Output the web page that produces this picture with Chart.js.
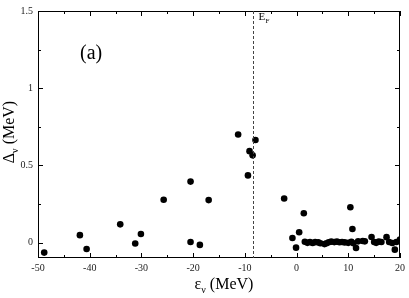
<!DOCTYPE html>
<html>
<head>
<meta charset="utf-8">
<script src="https://cdn.jsdelivr.net/npm/chart.js@4"></script>
<style>
  html, body { margin: 0; padding: 0; background: #fff; }
  #wrap { width: 409px; height: 298px; }
</style>
</head>
<body>
<div id="wrap"><canvas id="c" width="409" height="298"></canvas></div>
<script>
/* ---- data ---- */
var epsVals = [-48.8, -41.9, -40.6, -34.1, -31.2, -30.1, -25.7, -20.5, -20.5, -18.7, -17.0,
    -11.3, -7.95, -9.1, -8.5, -9.4, -2.4, 1.4, 10.4, 10.8, 0.5, -0.8, -0.1,
    1.6, 2.1, 2.6, 3.1, 3.6, 4.2, 4.6, 5.4, 5.8, 6.2, 6.7, 7.3, 7.8, 8.3, 8.8, 9.3,
    10.0, 10.6, 11.0, 11.5, 11.9, 12.8, 13.2, 14.5, 15.0, 15.4, 15.9, 16.4, 17.4,
    17.9, 18.5, 19.0, 19.3, 20.0];
var gapVals = [-0.065, 0.048, -0.042, 0.118, -0.006, 0.055, 0.277, 0.395, 0.004, -0.015, 0.275,
    0.70, 0.664, 0.592, 0.565, 0.435, 0.285, 0.19, 0.229, 0.088, 0.067, 0.03, -0.033,
    0.005, -0.002, 0.004, -0.003, 0.003, 0.001, -0.004, -0.01, -0.004, 0.002, 0.006, 0.003, 0.006, 0.002, 0.004, 0.001,
    -0.002, 0.005, -0.004, -0.035, 0.008, 0.01, 0.008, 0.036, 0.004, -0.002, 0.006, 0.004, 0.035,
    0.004, -0.003, -0.046, 0.004, 0.02];
var xTicks = [-50, -40, -30, -20, -10, 0, 10, 20];
var yTicks = [0, 0.5, 1, 1.5];
var fermiLevel = -8.4;

var SERIF = "'Liberation Serif', 'Times New Roman', 'DejaVu Serif', serif";

var points = epsVals.map(function (x, i) { return { x: x, y: gapVals[i] }; });

/* frame, inward ticks, Fermi line and labels */
var decor = {
    id: 'decor',
    afterDatasetsDraw: function (chart) {
        var ctx = chart.ctx, a = chart.chartArea;
        var xs = chart.scales.x, ys = chart.scales.y;
        ctx.save();
        ctx.strokeStyle = '#000';
        ctx.lineWidth = 1;
        ctx.strokeRect(a.left + 0.5, a.top + 0.5, a.right - a.left - 1, a.bottom - a.top - 1);

        ctx.beginPath();
        for (var v = -50; v <= 20; v += 5) {
            var px = Math.round(xs.getPixelForValue(v)) + 0.5;
            var len = (v % 10 === 0) ? 5 : 3;
            ctx.moveTo(px, a.bottom); ctx.lineTo(px, a.bottom - len);
            ctx.moveTo(px, a.top); ctx.lineTo(px, a.top + len);
        }
        for (var w = 0; w <= 1.5; w += 0.25) {
            var py = Math.round(ys.getPixelForValue(w)) + 0.5;
            var l2 = (Math.abs(w * 2 - Math.round(w * 2)) < 1e-6) ? 5 : 3;
            ctx.moveTo(a.left, py); ctx.lineTo(a.left + l2, py);
            ctx.moveTo(a.right, py); ctx.lineTo(a.right - l2, py);
        }
        ctx.stroke();

        // Fermi level
        var fx = Math.round(xs.getPixelForValue(fermiLevel)) + 0.5;
        ctx.setLineDash([3, 2]);
        ctx.strokeStyle = '#444';
        ctx.beginPath();
        ctx.moveTo(fx, a.top); ctx.lineTo(fx, a.bottom);
        ctx.stroke();
        ctx.setLineDash([]);

        ctx.fillStyle = '#000';
        ctx.textBaseline = 'alphabetic';
        ctx.textAlign = 'left';
        ctx.font = '11px ' + SERIF;
        ctx.fillText('E', fx + 5, 20);
        ctx.font = '7px ' + SERIF;
        ctx.fillText('F', fx + 12, 23);

        ctx.font = '20px ' + SERIF;
        ctx.fillText('(a)', a.left + 42, a.top + 48);

        // x title
        var t1 = 'ε', t3 = ' (MeV)';
        ctx.font = '16px ' + SERIF;
        var w1 = ctx.measureText(t1).width;
        var w3 = ctx.measureText(t3).width;
        ctx.font = '10px ' + SERIF;
        var w2 = ctx.measureText('ν').width;
        var x0 = 224 - (w1 + w2 + w3) / 2;
        ctx.font = '16px ' + SERIF;
        ctx.fillText(t1, x0, 289);
        ctx.font = '10px ' + SERIF;
        ctx.fillText('ν', x0 + w1, 293);
        ctx.font = '16px ' + SERIF;
        ctx.fillText(t3, x0 + w1 + w2, 289);

        // y title (rotated)
        ctx.translate(14, 132);
        ctx.rotate(-Math.PI / 2);
        var d1 = 'Δ';
        var dw1 = ctx.measureText(d1).width;
        var y0 = -(dw1 + w2 + w3) / 2;
        ctx.fillText(d1, y0, 0);
        ctx.font = '10px ' + SERIF;
        ctx.fillText('ν', y0 + dw1, 4);
        ctx.font = '16px ' + SERIF;
        ctx.fillText(t3, y0 + dw1 + w2, 0);
        ctx.restore();
    }
};

new Chart(document.getElementById('c'), {
    type: 'scatter',
    data: {
        datasets: [{
            data: points,
            backgroundColor: '#000',
            borderColor: '#000',
            pointRadius: 3.3,
            pointBorderWidth: 0,
        }],
    },
    options: {
        responsive: false,
        animation: false,
        events: [],
        layout: { padding: { top: 5, right: 7, left: 0, bottom: 0 } },
        plugins: {
            legend: { display: false },
            tooltip: { enabled: false },
        },
        scales: {
            x: {
                type: 'linear',
                min: -50, max: 20,
                afterBuildTicks: function (s) { s.ticks = xTicks.map(function (v) { return { value: v }; }); },
                afterFit: function (s) { s.height = 40; },
                grid: { display: false, drawTicks: false },
                border: { display: false },
                ticks: { font: { size: 10, family: SERIF }, color: '#222', padding: 4, maxRotation: 0,
                    callback: function (v) { return String(v); } },
            },
            y: {
                type: 'linear',
                min: -0.1, max: 1.5,
                afterBuildTicks: function (s) { s.ticks = yTicks.map(function (v) { return { value: v }; }); },
                afterFit: function (s) { s.width = 38; },
                grid: { display: false, drawTicks: false },
                border: { display: false },
                ticks: { font: { size: 10, family: SERIF }, color: '#222', padding: 5,
                    callback: function (v) { return String(v); } },
            },
        },
    },
    plugins: [decor],
});
</script>
</body>
</html>
